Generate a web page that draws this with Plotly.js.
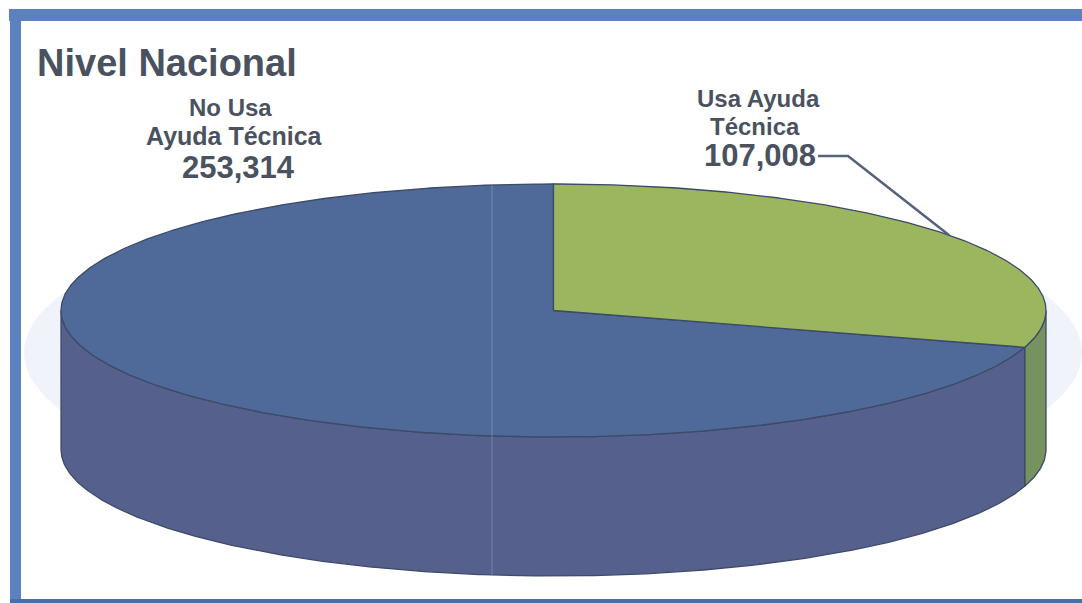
<!DOCTYPE html>
<html>
<head>
<meta charset="utf-8">
<script src="https://cdn.plot.ly/plotly-3.0.1.min.js"></script>
<style>html,body{margin:0;padding:0;background:#fff;overflow:hidden}</style>
</head>
<body>
<div id="chart" style="width:1082px;height:603px"></div>
<script>
// Persons by use of technical aids, national level
const categories = ["Usa Ayuda Técnica", "No Usa Ayuda Técnica"];
const values = [107008, 253314];
const topColors = ["#9bb65f", "#4f6a99"];
const sideColors = ["#76925f", "#55618c"];

// Projection of the tilted disc, in plot units
const cx = 553.5, cy = 310.5, rx = 492.5, ry = 126.5, depth = 139;
const edge = "#3d4a68";
const ink = "#4a5260";

const total = values.reduce((a, b) => a + b, 0);
const shareDeg = values.map(v => v / total * 360);
const rad = d => d * Math.PI / 180;
const px = d => cx + rx * Math.sin(rad(d));
const py = (d, drop) => cy - ry * Math.cos(rad(d)) + (drop || 0);

function arc(from, to, drop) {
  const xs = [], ys = [];
  const n = Math.max(2, Math.ceil((to - from) / 0.5));
  for (let i = 0; i <= n; i++) {
    const d = from + (to - from) * i / n;
    xs.push(px(d));
    ys.push(py(d, drop));
  }
  return { xs, ys };
}

function poly(xs, ys, fill) {
  return {
    type: "scatter", mode: "lines", x: xs, y: ys, fill: "toself", fillcolor: fill,
    line: { color: edge, width: 1.3 }, hoverinfo: "skip", showlegend: false
  };
}

// Wall between two angles; only the part facing the viewer (90..270) shows
function wall(from, to, fill) {
  const a = Math.max(from, 90), b = Math.min(to, 270);
  const up = arc(a, b, 0), down = arc(a, b, depth);
  return poly(up.xs.concat(down.xs.reverse(), [up.xs[0]]),
              up.ys.concat(down.ys.reverse(), [up.ys[0]]), fill);
}

function wedge(from, to, fill) {
  const a = arc(from, to, 0);
  return poly([cx].concat(a.xs, [cx]), [cy].concat(a.ys, [cy]), fill);
}

const split = shareDeg[0];
const traces = [
  wall(0, split, sideColors[0]),
  wall(split, 360, sideColors[1]),
  wedge(split, 360, topColors[1]),
  wedge(0, split, topColors[0])
];

// Leader from the value label to the middle of its slice
const midDeg = split / 2;
traces.push({
  type: "scatter", mode: "lines",
  x: [818, 848, px(midDeg)], y: [156, 156, py(midDeg)],
  line: { color: "#56627c", width: 2.5 }, hoverinfo: "skip", showlegend: false
});

const fmt = v => v.toLocaleString("en-US");
const note = (x, y, text, size) => ({
  x, y, text, xref: "x", yref: "y", showarrow: false, xanchor: "center", yanchor: "middle",
  font: { family: "Liberation Sans, Arial, sans-serif", size, color: ink, weight: 700 }
});

const layout = {
  width: 1082, height: 603,
  margin: { l: 0, r: 0, t: 0, b: 0 },
  paper_bgcolor: "#ffffff", plot_bgcolor: "#ffffff",
  showlegend: false,
  xaxis: { range: [0, 1082], visible: false, fixedrange: true },
  yaxis: { range: [603, 0], visible: false, fixedrange: true },
  shapes: [
    // pale halo behind the disc
    { type: "circle", layer: "below", xref: "x", yref: "y", x0: 24, x1: 1082, y0: 195, y1: 510,
      fillcolor: "#f0f3fa", line: { width: 0 } },
    // faint fold across the disc
    { type: "line", layer: "above", xref: "x", yref: "y", x0: 492, x1: 492, y0: 185, y1: 576,
      line: { color: "rgba(125,150,185,0.45)", width: 1.5 } },
    // card frame: top, left and bottom bands
    { type: "rect", layer: "above", xref: "x", yref: "y", x0: 9, x1: 1082, y0: 9, y1: 21,
      fillcolor: "#5b82bf", line: { width: 0 } },
    { type: "rect", layer: "above", xref: "x", yref: "y", x0: 10, x1: 21, y0: 9, y1: 603,
      fillcolor: "#5b82bf", line: { width: 0 } },
    { type: "rect", layer: "above", xref: "x", yref: "y", x0: 10, x1: 1082, y0: 599, y1: 603,
      fillcolor: "#4a6fa8", line: { width: 0 } }
  ],
  annotations: [
    { x: 35, y: 63, text: "Nivel Nacional", xref: "x", yref: "y", showarrow: false,
      xanchor: "left", yanchor: "middle",
      font: { family: "Liberation Sans, Arial, sans-serif", size: 38, color: ink, weight: 700 } },
    note(230, 107, "No Usa", 24),
    note(234, 136, "Ayuda Técnica", 25),
    note(238, 167, fmt(values[1]), 31),
    note(758, 98, "Usa Ayuda", 24),
    note(755, 126, "Técnica", 24),
    note(760, 155, fmt(values[0]), 31)
  ]
};

Plotly.newPlot("chart", traces, layout, { displayModeBar: false, staticPlot: true });
</script>
</body>
</html>
